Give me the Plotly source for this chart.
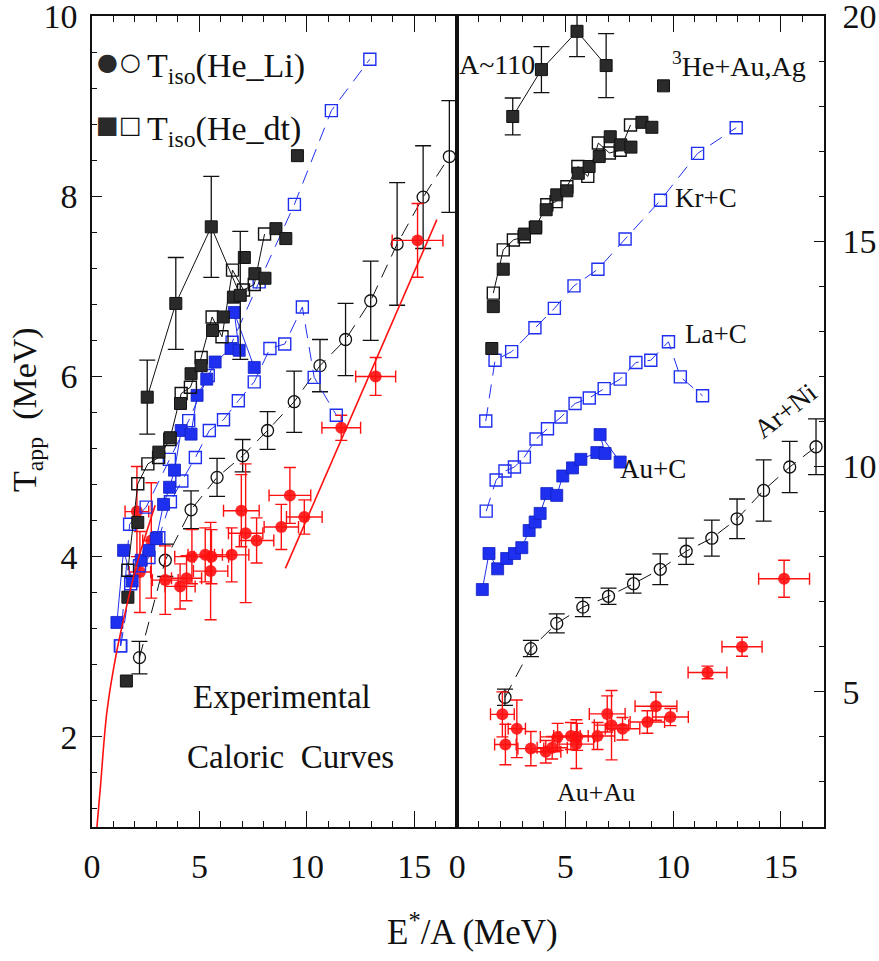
import plotly.graph_objects as go

# ---------------- data (values in MeV, left-panel scale) ----------------
# offsets: the right panel shows the same curves shifted up by these amounts
A110_x = [2.57, 3.90, 5.55, 6.90]
A110_y = [5.77, 6.81, 7.66, 6.90]
A110_err = [0.41, 0.51, 0.56, 0.71]
A110_off = 12

HEF_x = [1.60, 1.67, 2.13, 3.11, 3.64, 4.12, 4.61, 5.08, 5.61, 6.11, 6.58, 7.09, 7.58, 8.05, 8.56, 9.02, 9.56]
HEF_y = [2.62, 3.55, 4.38, 5.16, 5.32, 5.70, 6.03, 6.12, 6.51, 6.66, 6.88, 7.32, 7.14, 7.09, 7.64, 7.53, 8.45]
HEO_x = [1.67, 2.13, 2.60, 3.10, 3.62, 4.15, 4.58, 5.08, 5.59, 6.05, 6.54, 7.05, 7.55, 8.03]
HEO_y = [3.85, 4.81, 5.03, 5.10, 5.30, 5.81, 5.88, 6.21, 6.66, 6.44, 7.18, 6.96, 7.02, 7.58]
HE_off = 10

KRC_x = [1.32, 1.75, 2.52, 3.60, 4.50, 5.41, 6.52, 7.78, 9.42, 11.14, 12.93]
KRC_y = [3.01, 4.36, 4.55, 5.08, 5.51, 6.01, 6.38, 7.05, 7.91, 8.95, 9.52]
KRC_off = 8

LAC_x = [1.34, 1.80, 2.21, 2.65, 3.11, 3.65, 4.18, 4.81, 5.46, 6.12, 6.81, 7.55, 8.28, 8.97, 9.79, 10.34, 11.37]
LAC_y = [3.01, 3.70, 3.90, 3.99, 4.21, 4.61, 4.84, 5.10, 5.40, 5.52, 5.73, 5.94, 6.31, 6.36, 6.77, 5.99, 5.57]
LAC_off = 6

AUC_x = [1.16, 1.47, 1.87, 2.29, 2.65, 2.99, 3.33, 3.61, 3.84, 4.15, 4.61, 4.89, 5.34, 5.73, 6.47, 6.85, 6.62, 7.55]
AUC_y = [3.27, 4.07, 3.73, 3.96, 4.07, 4.20, 4.58, 4.77, 4.96, 5.40, 5.36, 5.79, 5.97, 6.16, 6.31, 6.29, 6.71, 6.10]
AUC_off = 4

ARNI_x = [2.21, 3.41, 4.61, 5.82, 7.01, 8.17, 9.41, 10.61, 11.80, 12.97, 14.20, 15.41, 16.63]
ARNI_y = [2.88, 3.96, 4.52, 4.88, 5.12, 5.40, 5.72, 6.12, 6.41, 6.84, 7.47, 7.99, 8.44]
ARNI_err = [0.18, 0.18, 0.21, 0.21, 0.18, 0.21, 0.34, 0.29, 0.40, 0.44, 0.68, 0.57, 0.62]
ARNI_off = 2

AUAU_x = [2.09, 2.23, 2.76, 3.41, 4.10, 4.40, 4.65, 5.27, 5.56, 5.52, 6.50, 6.95, 7.15, 7.66, 8.81, 9.21, 9.88, 11.60, 13.20, 15.15]
AUAU_y = [4.50, 3.83, 4.18, 3.74, 3.67, 3.76, 4.00, 4.02, 4.00, 3.84, 4.02, 4.51, 4.26, 4.18, 4.33, 4.68, 4.44, 5.43, 6.00, 7.51]
AUAU_yerr = [0.50, 0.45, 0.64, 0.38, 0.25, 0.25, 0.30, 0.30, 0.30, 0.54, 0.30, 0.40, 0.77, 0.25, 0.25, 0.31, 0.19, 0.14, 0.21, 0.41]
AUAU_xerr = [0.55, 0.50, 0.40, 0.60, 0.70, 0.70, 0.80, 0.80, 0.80, 0.80, 0.80, 0.83, 0.80, 0.80, 0.80, 0.97, 0.83, 0.90, 0.93, 1.18]
AUAU_off = 0

FIT1_x = [0.23, 0.39, 0.70, 1.16, 1.67, 2.09, 2.94]
FIT1_y = [1.00, 1.44, 2.29, 2.96, 3.51, 3.92, 4.57]
FIT2_x = [9.00, 16.05]
FIT2_y = [3.87, 7.74]

X_TICKS = [0, 5, 10, 15]
YL_TICKS = [2, 4, 6, 8, 10]
YR_TICKS = [5, 10, 15, 20]

# ---------------- styling ----------------
FONT = "Liberation Serif, DejaVu Serif, serif"
BLACK = "#111111"
DARK = "#2a2a2a"
BLUE = "#1f2ff0"
RED = "#ff1010"
DASH = "14px,9px"

W, H = 879, 961
ML, MR, MT, MB = 92, 55, 16, 134
PW, PH = W - ML - MR, H - MT - MB


def pp(px, py):
    return (px - ML) / PW, 1 - (py - MT) / PH


fig = go.Figure()


def add(panel, **kw):
    xa, ya = ("x", "y") if panel == 0 else ("x2", "y2")
    fig.add_trace(go.Scatter(xaxis=xa, yaxis=ya, showlegend=False, **kw))


def shift(vals, off):
    return [v + off for v in vals]


for panel in (0, 1):
    k = panel  # offsets applied only in right panel
    # Ar+Ni
    add(panel, x=ARNI_x, y=shift(ARNI_y, ARNI_off * k), mode="lines+markers",
        line=dict(color=BLACK, width=1, dash=DASH),
        marker=dict(symbol="circle-open", size=12, color=BLACK, line=dict(width=1.3)),
        error_y=dict(type="data", array=ARNI_err, color=BLACK, thickness=1.3, width=8))
    # Au+Au
    add(panel, x=AUAU_x, y=shift(AUAU_y, AUAU_off * k), mode="markers",
        marker=dict(symbol="circle", size=12, color=RED, opacity=0.9),
        error_y=dict(type="data", array=AUAU_yerr, color=RED, thickness=1.4, width=6),
        error_x=dict(type="data", array=AUAU_xerr, color=RED, thickness=1.4, width=6))
    # La+C
    add(panel, x=LAC_x, y=shift(LAC_y, LAC_off * k), mode="lines+markers",
        line=dict(color=BLUE, width=1, dash=DASH),
        marker=dict(symbol="square-open", size=12, color=BLUE, line=dict(width=1.4)))
    # Kr+C
    add(panel, x=KRC_x, y=shift(KRC_y, KRC_off * k), mode="lines+markers",
        line=dict(color=BLUE, width=1, dash=DASH),
        marker=dict(symbol="square-open", size=12, color=BLUE, line=dict(width=1.4)))
    # Au+C
    add(panel, x=AUC_x, y=shift(AUC_y, AUC_off * k), mode="lines+markers",
        line=dict(color=BLUE, width=1),
        marker=dict(symbol="square", size=12, color=BLUE, line=dict(width=0.8, color="#1020c0")))
    # 3He+Au,Ag open
    add(panel, x=HEO_x, y=shift(HEO_y, HE_off * k), mode="lines+markers",
        line=dict(color=BLACK, width=1),
        marker=dict(symbol="square-open", size=12, color=BLACK, line=dict(width=1.4)))
    # 3He+Au,Ag filled
    add(panel, x=HEF_x, y=shift(HEF_y, HE_off * k), mode="markers",
        marker=dict(symbol="square", size=12, color=DARK, line=dict(width=1, color=BLACK)))
    # A~110
    add(panel, x=A110_x, y=shift(A110_y, A110_off * k), mode="lines+markers",
        line=dict(color=BLACK, width=1),
        marker=dict(symbol="square", size=12, color=DARK, line=dict(width=1, color=BLACK)),
        error_y=dict(type="data", array=A110_err, color=BLACK, thickness=1.3, width=8))

# red fit curves (left panel only)
add(0, x=FIT1_x, y=FIT1_y, mode="lines", line=dict(color=RED, width=1.6, shape="spline"))
add(0, x=FIT2_x, y=FIT2_y, mode="lines", line=dict(color=RED, width=1.6))

axis_common = dict(showgrid=False, zeroline=False, showline=True, linecolor=BLACK, linewidth=1.5,
                   ticks="inside", tickcolor=BLACK, tickwidth=1.2, ticklabeloverflow="allow",
                   automargin=False,
                   tickfont=dict(family=FONT, size=34, color=BLACK))
split = (457.3 - ML) / PW

fig.update_layout(
    width=W, height=H,
    margin=dict(l=ML, r=MR, t=MT, b=MB, autoexpand=False),
    paper_bgcolor="white", plot_bgcolor="white",
    xaxis=dict(domain=[0, split], range=[0, 17], anchor="y", tickmode="array", tickvals=X_TICKS,
               ticklen=16, mirror="ticks", ticklabelstandoff=8,
               minor=dict(dtick=1, tick0=0, ticklen=6, ticks="inside", tickcolor=BLACK), **axis_common),
    xaxis2=dict(domain=[split, 1], range=[0, 17], anchor="y2", tickmode="array", tickvals=X_TICKS,
                ticklen=16, mirror="ticks", ticklabelstandoff=8,
                minor=dict(dtick=1, tick0=0, ticklen=6, ticks="inside", tickcolor=BLACK), **axis_common),
    yaxis=dict(domain=[0, 1], range=[1, 10], anchor="x", tickmode="array", tickvals=YL_TICKS,
               ticklen=10, mirror=True, ticklabelstandoff=6,
               minor=dict(dtick=0.4, tick0=0, ticklen=5, ticks="inside", tickcolor=BLACK), **axis_common),
    yaxis2=dict(domain=[0, 1], range=[2, 20], anchor="x2", side="right", tickmode="array", tickvals=YR_TICKS,
                ticklen=10, mirror=True, ticklabelstandoff=10,
                minor=dict(dtick=1, tick0=0, ticklen=5, ticks="inside", tickcolor=BLACK), **axis_common),
)


def note(px, py, text, size, xanchor="center", angle=0, color=BLACK, family=FONT):
    x, y = pp(px, py)
    fig.add_annotation(xref="paper", yref="paper", x=x, y=y, text=text, showarrow=False,
                       xanchor=xanchor, yanchor="middle", textangle=angle,
                       font=dict(family=family, size=size, color=color))


# axis titles
note(472, 929, "E<sup>*</sup>/A (MeV)", 35)
note(27, 410, "T<sub>app</sub>&nbsp;&nbsp;(MeV)", 34, angle=-90)

# legend
note(107, 62, "\u25CF", 24, color=DARK, family="DejaVu Sans")
note(130, 62, "\u25CB", 24, family="DejaVu Sans")
note(145, 68, "T<sub>iso</sub>(He_Li)", 34, xanchor="left")
note(107, 125, "\u25A0", 24, color=DARK, family="DejaVu Sans")
note(130, 125, "\u25A1", 24, family="DejaVu Sans")
note(145, 131, "T<sub>iso</sub>(He_dt)", 34, xanchor="left")

# panel labels
note(282, 697, "Experimental", 33)
note(290, 757, "Caloric&nbsp;&nbsp;Curves", 33)
note(497, 64, "A~110", 28)
note(739, 64, "<sup>3</sup>He+Au,Ag", 28)
note(706, 198, "Kr+C", 27)
note(716, 334, "La+C", 27)
note(653, 469, "Au+C", 27)
note(785, 411, "Ar+Ni", 27, angle=-38)
note(596, 792, "Au+Au", 26)

fig.write_html("out.html", config={"displayModeBar": False},
               post_script="document.body.style.margin='0px';document.body.style.overflow='hidden';")
